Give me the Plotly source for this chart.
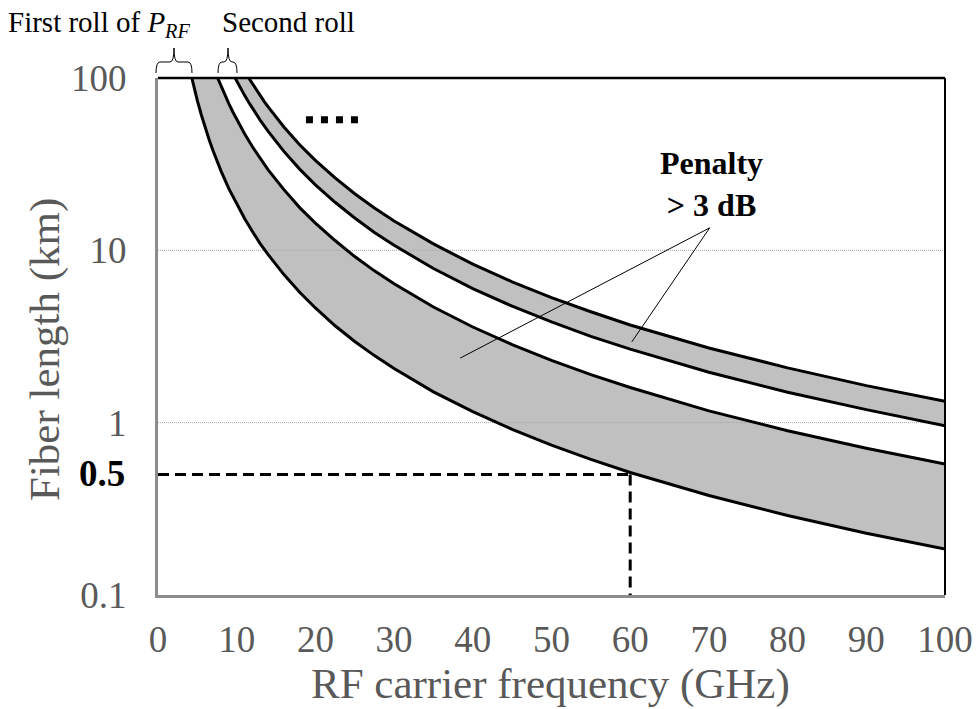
import plotly.graph_objects as go

# ---- data ----
# boundary curves of the >3 dB penalty bands (fiber length in km vs RF freq in GHz)
f1 = [4.3, 4.6, 5, 5.5, 6, 6.5, 7, 7.5, 8, 9, 10, 11, 12, 13, 14, 16, 18, 20, 22.5, 25, 27.5, 30, 35, 40, 45, 50, 55, 60, 70, 80, 90, 100]
L1 = [100, 87.4, 74, 61.2, 51.4, 43.8, 37.8, 32.9, 28.9, 22.8, 18.5, 15.3, 12.85, 10.9, 9.44, 7.23, 5.71, 4.63, 3.65, 2.96, 2.45, 2.06, 1.51, 1.16, 0.914, 0.74, 0.612, 0.514, 0.378, 0.289, 0.228, 0.185]

f2 = [7.58, 8, 8.5, 9, 9.5, 10, 11, 12, 13, 14, 16, 18, 20, 22.5, 25, 27.5, 30, 35, 40, 45, 50, 55, 60, 70, 80, 90, 100]
L2 = [100, 89.8, 79.6, 71, 63.7, 57.5, 47.5, 39.9, 34.0, 29.3, 22.5, 17.7, 14.4, 11.4, 9.2, 7.6, 6.39, 4.69, 3.59, 2.84, 2.3, 1.90, 1.60, 1.17, 0.898, 0.71, 0.575]

f3 = [9.8, 10, 10.5, 11, 11.5, 12, 13, 14, 16, 18, 20, 22.5, 25, 27.5, 30, 35, 40, 45, 50, 55, 60, 70, 80, 90, 100]
L3 = [100, 96, 87.1, 79.3, 72.6, 66.7, 56.8, 49, 37.5, 29.6, 24, 19.0, 15.4, 12.7, 10.7, 7.84, 6.0, 4.74, 3.84, 3.17, 2.67, 1.96, 1.5, 1.19, 0.96]

f4 = [11.53, 12, 12.5, 13, 13.5, 14, 15, 16, 18, 20, 22.5, 25, 27.5, 30, 35, 40, 45, 50, 55, 60, 70, 80, 90, 100]
L4 = [100, 92.4, 85.1, 78.7, 73.0, 67.9, 59.1, 52, 41, 33.3, 26.3, 21.3, 17.6, 14.8, 10.9, 8.31, 6.57, 5.32, 4.40, 3.69, 2.71, 2.08, 1.64, 1.33]

x_ticks = [0, 10, 20, 30, 40, 50, 60, 70, 80, 90, 100]
y_ticks = [0.1, 1, 10, 100]
y_ticktext = ["0.1", "1", "10", "100"]
grid_levels = [1, 10]

ref_f = 60      # dashed marker frequency
ref_L = 0.5     # dashed marker length

# ---- layout geometry (pixels) ----
W, H = 978, 709
ML, MR, MT, MB = 158, 33, 78, 114
PW, PH = W - ML - MR, H - MT - MB

def px(x):
    return (x - ML) / PW

def py(y):
    return (H - MB - y) / PH

FONT = "Liberation Serif"
GRAY = "#595959"

fig = go.Figure()

# filled bands
fig.add_trace(go.Scatter(x=f1 + f2[::-1], y=L1 + L2[::-1], fill="toself",
                         fillcolor="#c0c0c0", line=dict(width=0),
                         mode="lines", hoverinfo="skip", showlegend=False))
fig.add_trace(go.Scatter(x=f3 + f4[::-1], y=L3 + L4[::-1], fill="toself",
                         fillcolor="#c0c0c0", line=dict(width=0),
                         mode="lines", hoverinfo="skip", showlegend=False))

# dotted grid lines (drawn above fill)
for g in grid_levels:
    fig.add_trace(go.Scatter(x=[x_ticks[0], x_ticks[-1]], y=[g, g], mode="lines",
                             line=dict(color="#a6a6a6", width=1, dash="1px,1px"),
                             hoverinfo="skip", showlegend=False))

# curves
for fx, Ly in [(f1, L1), (f2, L2), (f3, L3), (f4, L4)]:
    fig.add_trace(go.Scatter(x=fx, y=Ly, mode="lines",
                             line=dict(color="black", width=3),
                             hoverinfo="skip", showlegend=False))

# dashed reference lines
fig.add_trace(go.Scatter(x=[0, ref_f], y=[ref_L, ref_L], mode="lines",
                         line=dict(color="black", width=3, dash="11px,6px"),
                         hoverinfo="skip", showlegend=False))
fig.add_trace(go.Scatter(x=[ref_f, ref_f], y=[ref_L, 0.1], mode="lines",
                         line=dict(color="black", width=3, dash="11px,6px"),
                         hoverinfo="skip", showlegend=False))

# pointer lines from "Penalty > 3 dB"
tip = (70.1, 13.5)
for end in [(38.4, 2.37), (60.2, 2.94)]:
    fig.add_trace(go.Scatter(x=[tip[0], end[0]], y=[tip[1], end[1]], mode="lines",
                             line=dict(color="black", width=1),
                             hoverinfo="skip", showlegend=False))

# "...." marker
fig.add_trace(go.Scatter(x=[18.8, 25.5], y=[57.2, 57.2], mode="lines",
                         line=dict(color="black", width=7, dash="7px,8px"),
                         hoverinfo="skip", showlegend=False))

shapes = []
# top and right border (black)
shapes.append(dict(type="line", xref="paper", yref="paper", x0=0, x1=1, y0=1, y1=1,
                   line=dict(color="black", width=2.5), layer="above"))
shapes.append(dict(type="line", xref="paper", yref="paper", x0=1, x1=1, y0=0, y1=1,
                   line=dict(color="black", width=2), layer="above"))

def brace(x0, xc, x1, y_end=73, y_top=62, y_tip=48, r=4):
    pts = lambda x, y: f"{px(x):.5f},{py(y):.5f}"
    return (f"M {pts(x0, y_end)} Q {pts(x0, y_top)} {pts(x0 + r, y_top)} "
            f"L {pts(xc - r, y_top)} Q {pts(xc, y_top)} {pts(xc, y_tip)} "
            f"Q {pts(xc, y_top)} {pts(xc + r, y_top)} "
            f"L {pts(x1 - r, y_top)} Q {pts(x1, y_top)} {pts(x1, y_end)}")

for b in [(156, 174, 192), (218, 228, 237)]:
    shapes.append(dict(type="path", xref="paper", yref="paper", path=brace(*b),
                       line=dict(color="black", width=1)))

annotations = [
    dict(text="<b>Penalty<br>&gt; 3 dB</b>", xref="paper", yref="paper",
         x=px(711), y=py(184), xanchor="center", yanchor="middle", showarrow=False,
         font=dict(family=FONT, size=32, color="black"), align="center"),
    dict(text="<b>0.5</b>", xref="paper", yref="paper", x=px(127), y=py(473),
         xanchor="right", yanchor="middle", showarrow=False,
         font=dict(family=FONT, size=37, color="black")),
    dict(text="First roll of <i>P</i><sub><i>RF</i></sub>", xref="paper", yref="paper",
         x=px(6), y=py(24), xanchor="left", yanchor="middle", showarrow=False,
         font=dict(family=FONT, size=29, color="black")),
    dict(text="Second roll", xref="paper", yref="paper",
         x=px(220), y=py(22), xanchor="left", yanchor="middle", showarrow=False,
         font=dict(family=FONT, size=29, color="black")),
    # axis titles
    dict(text="RF carrier frequency (GHz)", xref="paper", yref="paper",
         x=px(550), y=py(684), xanchor="center", yanchor="middle", showarrow=False,
         font=dict(family=FONT, size=43, color=GRAY)),
    dict(text="Fiber length (km)", xref="paper", yref="paper", textangle=-90,
         x=px(45), y=py(349), xanchor="center", yanchor="middle", showarrow=False,
         font=dict(family=FONT, size=43, color=GRAY)),
]

fig.update_layout(
    width=W, height=H,
    margin=dict(l=ML, r=MR, t=MT, b=MB, pad=0, autoexpand=False),
    paper_bgcolor="white", plot_bgcolor="white",
    showlegend=False,
    shapes=shapes, annotations=annotations,
    xaxis=dict(range=[0, 100], tickvals=x_ticks, showgrid=False, zeroline=False,
               showline=True, linecolor="#8c8c8c", linewidth=3, ticks="",
               ticklabelstandoff=10, automargin=False,
               tickfont=dict(family=FONT, size=37, color=GRAY)),
    yaxis=dict(type="log", range=[-1, 2], tickvals=y_ticks, ticktext=y_ticktext,
               showgrid=False, zeroline=False,
               showline=True, linecolor="#8c8c8c", linewidth=3, ticks="",
               ticklabelstandoff=21, automargin=False,
               tickfont=dict(family=FONT, size=37, color=GRAY)),
)

fig.write_html("out.html")
